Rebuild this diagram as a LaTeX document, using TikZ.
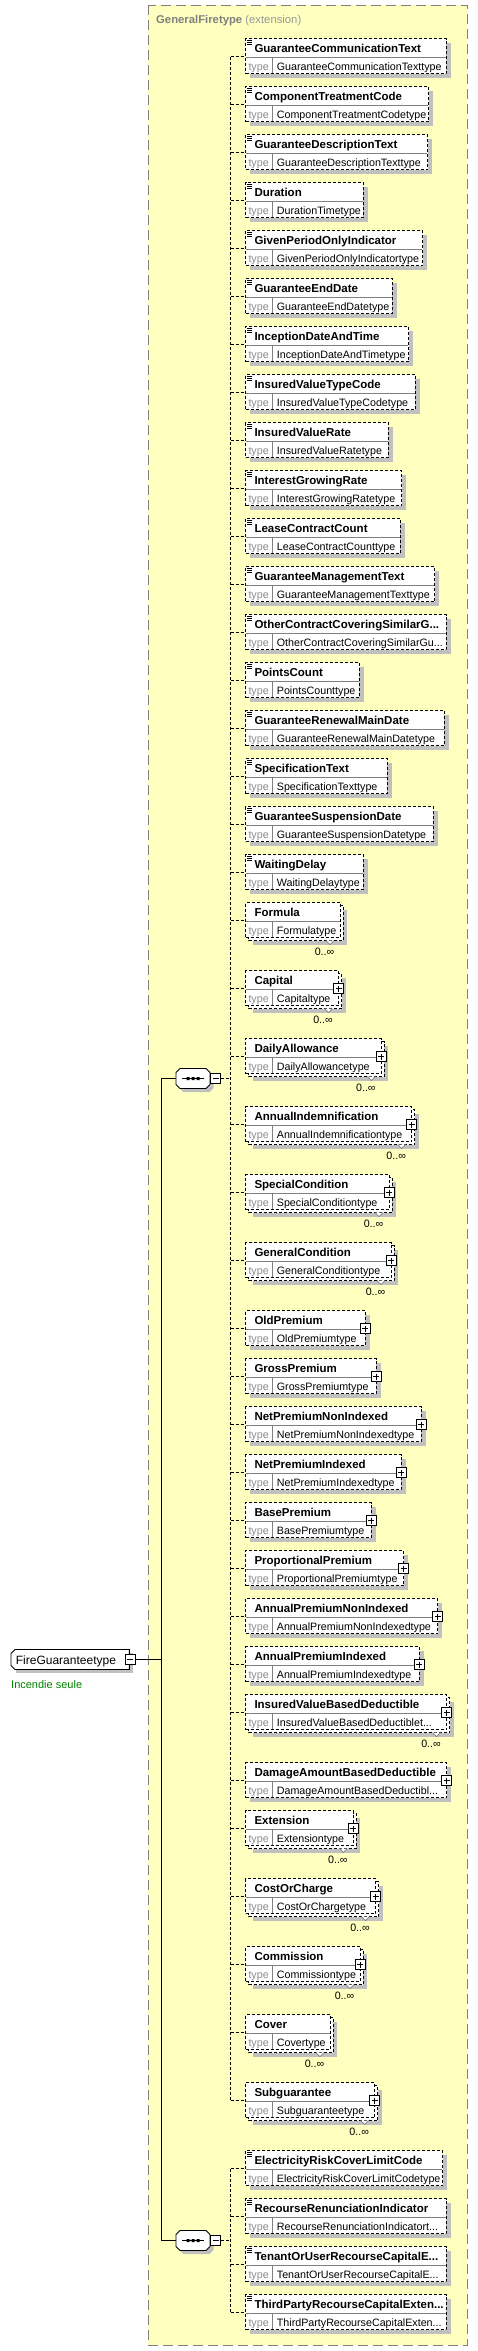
\documentclass[tikz,border=0pt]{standalone}
\usepackage{fontspec}
\setmainfont{Liberation Sans}
\definecolor{ybg}{HTML}{FFFFC0}
\definecolor{shd}{HTML}{C0C0C0}
\definecolor{gline}{HTML}{808080}
\definecolor{glab}{HTML}{8C8C8C}
\definecolor{ttl}{HTML}{808080}
\definecolor{ttl2}{HTML}{999999}
\definecolor{grn}{HTML}{008000}
\newcommand\xel[8]{%
  \pgfmathsetmacro\myW{#3-245.5}%
  \ifnum#8=1
    \fill[shd] (252.5,#2+7) rectangle (#3+7,#2+42);
    \draw[bx,fill=white] (248.5,#2+3) rectangle (#3+3,#2+38);
    \draw[gline,line width=0.7pt,fill=white] (#3-14,#2+38) -- (#3-10,#2+42) -- (#3-6,#2+38);
  \else
    \fill[shd] (250,#2+4.5) rectangle (#3+4.5,#2+39.5);
  \fi
  \node[ebox,minimum width=\myW pt,anchor=north west] (#1) at (245.5,#2) {};
  \draw[gline,line width=0.8pt] (246,#2+19) -- (#3-0.5,#2+19) (272.7,#2+19) -- (272.7,#2+34.5);
  \node[nm] (#1n) at (254.3,#2+14) {#4};
  \node[tl] (#1l) at (248.3,#2+31.7) {type};
  \node[ty] (#1t) at (276.7,#2+31.7) {#5};
  \ifnum#6=1 \draw[line width=0.6pt] (246.8,#2+2) -- +(5,0) (246.8,#2+3.7) -- +(5,0) (246.8,#2+5.4) -- +(5,0);\fi
  \ifnum#7=1 \draw[fill=white,line width=0.9pt] (#3-5,#2+13) rectangle (#3+5,#2+23);
    \draw[line width=0.9pt] (#3-3,#2+18) -- (#3+3,#2+18) (#3,#2+15) -- (#3,#2+21);\fi
  \ifnum#8=1 \node[mult] (#1m) at (#3-5.5,#2+52.5) {0..∞};\fi
  \coordinate (#1j) at (230.7,#2+18);
  \draw[conn] (#1j) -- (#1j -| #1.west);
}
\newcommand\seqc[3]{%
  \fill[shd] (#2-9.5,#3-6.5) -- (#2+16.5,#3-6.5) -- (#2+20.5,#3-2.5) -- (#2+20.5,#3+9.5) -- (#2+16.5,#3+13.5) -- (#2-9.5,#3+13.5) -- (#2-13.5,#3+9.5) -- (#2-13.5,#3-2.5) -- cycle;
  \draw[fill=white,line width=0.9pt] (#2-13,#3-10) -- (#2+13,#3-10) -- (#2+17,#3-6) -- (#2+17,#3+6) -- (#2+13,#3+10) -- (#2-13,#3+10) -- (#2-17,#3+6) -- (#2-17,#3-6) -- cycle;
  \draw[line width=0.9pt] (#2-11,#3) -- (#2+11,#3);
  \fill (#2-6.5,#3-1.5) rectangle +(3,3) (#2-1.5,#3-1.5) rectangle +(3,3) (#2+3.5,#3-1.5) rectangle +(3,3);
  \draw[fill=white,line width=0.9pt] (#2+17.7,#3-5) rectangle (#2+27.7,#3+5);
  \draw[line width=0.9pt] (#2+19.7,#3) -- (#2+25.7,#3);
  \coordinate (#1w) at (#2-17,#3);
  \coordinate (#1e) at (#2+27.7,#3);
}
\begin{document}
\begin{tikzpicture}[x=1pt,y=-1pt,
  bx/.style={line width=0.9pt,dash pattern=on 3pt off 2pt},
  ebox/.style={bx,draw,fill=white,inner sep=0pt,outer sep=0pt,minimum height=35pt},
  conn/.style={line width=0.9pt,dash pattern=on 3pt off 2pt},
  sconn/.style={line width=0.9pt},
  nm/.style={anchor=base west,inner sep=0pt,font=\fontsize{11.5}{13}\selectfont\bfseries},
  ty/.style={anchor=base west,inner sep=0pt,font=\fontsize{10.7}{12}\selectfont},
  tl/.style={ty,text=glab},
  mult/.style={anchor=base east,inner sep=0pt,font=\fontsize{10.7}{12}\selectfont}]
\useasboundingbox (0,0) rectangle (478,2351);
% container
\draw[gline,fill=ybg,line width=1pt,dash pattern=on 10pt off 5pt] (148,5.3) rectangle (467.3,2345);
\node[anchor=base west,inner sep=0pt,font=\fontsize{11.3}{13}\selectfont] (title) at (156,23.3) {\textcolor{ttl}{\bfseries GeneralFiretype} \textcolor{ttl2}{(extension)}};
% elements
\xel{e1}{38.5}{446}{GuaranteeCommunicationText}{GuaranteeCommunicationTexttype}{1}{0}{0}
\xel{e2}{86.5}{428.7}{ComponentTreatmentCode}{ComponentTreatmentCodetype}{1}{0}{0}
\xel{e3}{134.5}{427.7}{GuaranteeDescriptionText}{GuaranteeDescriptionTexttype}{1}{0}{0}
\xel{e4}{182.5}{363.3}{Duration}{DurationTimetype}{1}{0}{0}
\xel{e5}{230.5}{422.7}{GivenPeriodOnlyIndicator}{GivenPeriodOnlyIndicatortype}{1}{0}{0}
\xel{e6}{278.5}{392.3}{GuaranteeEndDate}{GuaranteeEndDatetype}{1}{0}{0}
\xel{e7}{326.5}{408.7}{InceptionDateAndTime}{InceptionDateAndTimetype}{1}{0}{0}
\xel{e8}{374.5}{415}{InsuredValueTypeCode}{InsuredValueTypeCodetype}{1}{0}{0}
\xel{e9}{422.5}{388}{InsuredValueRate}{InsuredValueRatetype}{1}{0}{0}
\xel{e10}{470.5}{401.7}{InterestGrowingRate}{InterestGrowingRatetype}{1}{0}{0}
\xel{e11}{518.5}{400.3}{LeaseContractCount}{LeaseContractCounttype}{1}{0}{0}
\xel{e12}{566.5}{434.7}{GuaranteeManagementText}{GuaranteeManagementTexttype}{1}{0}{0}
\xel{e13}{614.5}{446}{OtherContractCoveringSimilarG...}{OtherContractCoveringSimilarGu...}{1}{0}{0}
\xel{e14}{662.5}{359}{PointsCount}{PointsCounttype}{1}{0}{0}
\xel{e15}{710.5}{444}{GuaranteeRenewalMainDate}{GuaranteeRenewalMainDatetype}{1}{0}{0}
\xel{e16}{758.5}{387}{SpecificationText}{SpecificationTexttype}{1}{0}{0}
\xel{e17}{806.5}{433}{GuaranteeSuspensionDate}{GuaranteeSuspensionDatetype}{1}{0}{0}
\xel{e18}{854.5}{363.3}{WaitingDelay}{WaitingDelaytype}{1}{0}{0}
\xel{e19}{902.5}{340}{Formula}{Formulatype}{0}{0}{1}
\xel{e20}{970.5}{338.5}{Capital}{Capitaltype}{0}{1}{1}
\xel{e21}{1038.5}{381.3}{DailyAllowance}{DailyAllowancetype}{0}{1}{1}
\xel{e22}{1106.5}{411.7}{AnnualIndemnification}{AnnualIndemnificationtype}{0}{1}{1}
\xel{e23}{1174.5}{389}{SpecialCondition}{SpecialConditiontype}{0}{1}{1}
\xel{e24}{1242.5}{391}{GeneralCondition}{GeneralConditiontype}{0}{1}{1}
\xel{e25}{1310.5}{365}{OldPremium}{OldPremiumtype}{0}{1}{0}
\xel{e26}{1358.5}{376}{GrossPremium}{GrossPremiumtype}{0}{1}{0}
\xel{e27}{1406.5}{421}{NetPremiumNonIndexed}{NetPremiumNonIndexedtype}{0}{1}{0}
\xel{e28}{1454.5}{401}{NetPremiumIndexed}{NetPremiumIndexedtype}{0}{1}{0}
\xel{e29}{1502.5}{371.3}{BasePremium}{BasePremiumtype}{0}{1}{0}
\xel{e30}{1550.5}{403.7}{ProportionalPremium}{ProportionalPremiumtype}{0}{1}{0}
\xel{e31}{1598.5}{437.7}{AnnualPremiumNonIndexed}{AnnualPremiumNonIndexedtype}{0}{1}{0}
\xel{e32}{1646.5}{419}{AnnualPremiumIndexed}{AnnualPremiumIndexedtype}{0}{1}{0}
\xel{e33}{1694.5}{446.5}{InsuredValueBasedDeductible}{InsuredValueBasedDeductiblet...}{0}{1}{1}
\xel{e34}{1762.5}{446.5}{DamageAmountBasedDeductible}{DamageAmountBasedDeductibl...}{0}{1}{0}
\xel{e35}{1810.5}{353.3}{Extension}{Extensiontype}{0}{1}{1}
\xel{e36}{1878.5}{375.5}{CostOrCharge}{CostOrChargetype}{0}{1}{1}
\xel{e37}{1946.5}{360}{Commission}{Commissiontype}{0}{1}{1}
\xel{e38}{2014.5}{330}{Cover}{Covertype}{0}{0}{1}
\xel{e39}{2082.5}{374.7}{Subguarantee}{Subguaranteetype}{0}{1}{1}
\xel{e40}{2150.5}{442.7}{ElectricityRiskCoverLimitCode}{ElectricityRiskCoverLimitCodetype}{1}{0}{0}
\xel{e41}{2198.5}{446}{RecourseRenunciationIndicator}{RecourseRenunciationIndicatort...}{1}{0}{0}
\xel{e42}{2246.5}{446}{TenantOrUserRecourseCapitalE...}{TenantOrUserRecourseCapitalE...}{1}{0}{0}
\xel{e43}{2294.5}{446}{ThirdPartyRecourseCapitalExten...}{ThirdPartyRecourseCapitalExten...}{1}{0}{0}
% sequence rails
\draw[conn] (e1j) -- (e39j);
\draw[conn] (e40j) -- (e43j);
% compositors
\seqc{sA}{193}{1078.5}
\seqc{sB}{193}{2240.5}
\draw[conn] (sAe) -- (sAe -| e1j);
\draw[conn] (sBe) -- (sBe -| e40j);
% root element
\fill[shd] (16,1653) rectangle (133,1673);
\draw[fill=white,line width=0.9pt] (15,1649.5) -- (129.3,1649.5) -- (129.3,1669.5) -- (15,1669.5) -- (11,1665.5) -- (11,1653.5) -- cycle;
\node[anchor=base west,inner sep=0pt,font=\fontsize{12}{14}\selectfont] (root) at (15.7,1664) {FireGuaranteetype};
\draw[fill=white,line width=0.9pt] (125,1654.5) rectangle (135,1664.5);
\draw[line width=0.9pt] (127,1659.5) -- (133,1659.5);
\coordinate (rootE) at (135,1659.5);
\node[anchor=base west,inner sep=0pt,text=grn,font=\fontsize{11}{13}\selectfont] (doc) at (11,1688) {Incendie seule};
% trunk
\coordinate (tA) at (161,1078.5);
\coordinate (tB) at (161,2240.5);
\draw[sconn] (tA) -- (tB);
\draw[sconn] (tA) -- (sAw);
\draw[sconn] (tB) -- (sBw);
\draw[sconn] (rootE) -- (rootE -| tA);
\end{tikzpicture}
\end{document}
